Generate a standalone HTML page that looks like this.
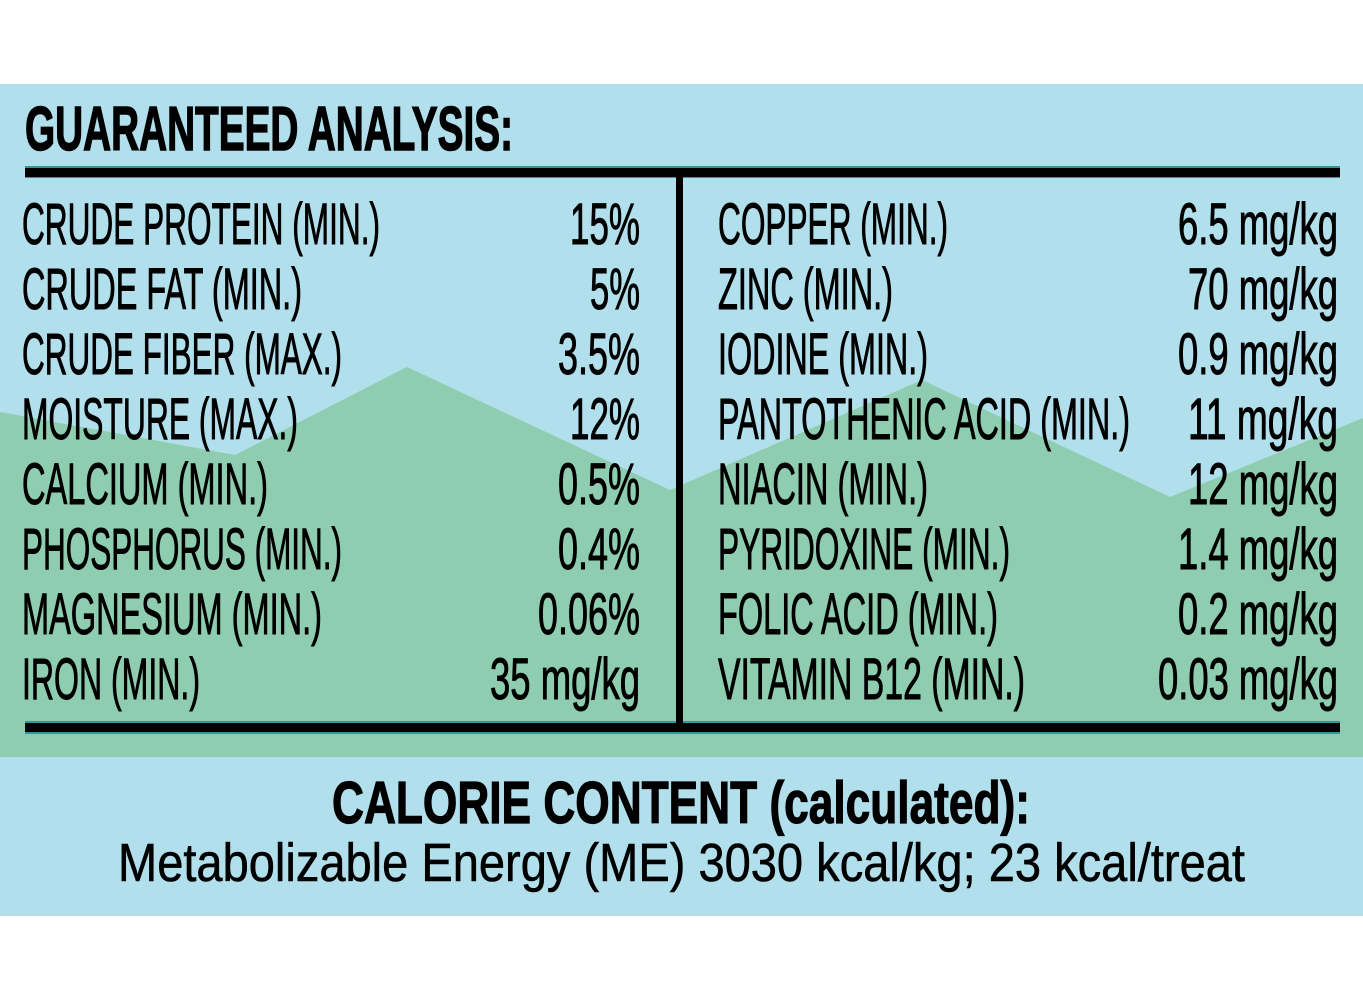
<!DOCTYPE html>
<html><head><meta charset="utf-8"><style>html,body{margin:0;padding:0;background:#fff}svg{display:block}</style></head>
<body>
<svg width="1363" height="1000" viewBox="0 0 1363 1000" xmlns="http://www.w3.org/2000/svg" font-family="Liberation Sans, sans-serif">
<rect x="0" y="0" width="1363" height="1000" fill="#fff"/>
<rect x="0" y="84" width="1363" height="832" fill="#b1dfec"/>
<polygon points="0,412 235,455 407,367 670,490 922,380 1170,497 1363,418 1363,757 0,757" fill="#8ecdb0"/>
<text x="25" y="150" font-size="62" font-weight="bold" stroke="#000" stroke-width="1.5" textLength="488" lengthAdjust="spacingAndGlyphs">GUARANTEED ANALYSIS:</text>
<rect x="25" y="166" width="1315" height="12" fill="#2a9a9a"/>
<rect x="25" y="168" width="1315" height="9" fill="#000"/>
<rect x="25" y="721" width="1315" height="13" fill="#2a9a9a"/>
<rect x="25" y="723" width="1315" height="9" fill="#000"/>
<rect x="676" y="174" width="7" height="554" fill="#000"/>
<g font-size="58" stroke="#000" stroke-width="1">
<text x="22" y="244" textLength="358" lengthAdjust="spacingAndGlyphs">CRUDE PROTEIN (MIN.)</text>
<text x="22" y="309" textLength="280" lengthAdjust="spacingAndGlyphs">CRUDE FAT (MIN.)</text>
<text x="22" y="374" textLength="320" lengthAdjust="spacingAndGlyphs">CRUDE FIBER (MAX.)</text>
<text x="22" y="439" textLength="276" lengthAdjust="spacingAndGlyphs">MOISTURE (MAX.)</text>
<text x="22" y="504" textLength="246" lengthAdjust="spacingAndGlyphs">CALCIUM (MIN.)</text>
<text x="22" y="569" textLength="320" lengthAdjust="spacingAndGlyphs">PHOSPHORUS (MIN.)</text>
<text x="22" y="634" textLength="300" lengthAdjust="spacingAndGlyphs">MAGNESIUM (MIN.)</text>
<text x="22" y="699" textLength="178" lengthAdjust="spacingAndGlyphs">IRON (MIN.)</text>
<text x="570" y="244" textLength="70" lengthAdjust="spacingAndGlyphs">15%</text>
<text x="590" y="309" textLength="50" lengthAdjust="spacingAndGlyphs">5%</text>
<text x="558" y="374" textLength="82" lengthAdjust="spacingAndGlyphs">3.5%</text>
<text x="570" y="439" textLength="70" lengthAdjust="spacingAndGlyphs">12%</text>
<text x="558" y="504" textLength="82" lengthAdjust="spacingAndGlyphs">0.5%</text>
<text x="558" y="569" textLength="82" lengthAdjust="spacingAndGlyphs">0.4%</text>
<text x="538" y="634" textLength="102" lengthAdjust="spacingAndGlyphs">0.06%</text>
<text x="490" y="699" textLength="150" lengthAdjust="spacingAndGlyphs">35 mg/kg</text>
<text x="718" y="244" textLength="230" lengthAdjust="spacingAndGlyphs">COPPER (MIN.)</text>
<text x="718" y="309" textLength="175" lengthAdjust="spacingAndGlyphs">ZINC (MIN.)</text>
<text x="718" y="374" textLength="210" lengthAdjust="spacingAndGlyphs">IODINE (MIN.)</text>
<text x="718" y="439" textLength="412" lengthAdjust="spacingAndGlyphs">PANTOTHENIC ACID (MIN.)</text>
<text x="718" y="504" textLength="210" lengthAdjust="spacingAndGlyphs">NIACIN (MIN.)</text>
<text x="718" y="569" textLength="292" lengthAdjust="spacingAndGlyphs">PYRIDOXINE (MIN.)</text>
<text x="718" y="634" textLength="280" lengthAdjust="spacingAndGlyphs">FOLIC ACID (MIN.)</text>
<text x="718" y="699" textLength="307" lengthAdjust="spacingAndGlyphs">VITAMIN B12 (MIN.)</text>
<text x="1178" y="244" textLength="160" lengthAdjust="spacingAndGlyphs">6.5 mg/kg</text>
<text x="1188" y="309" textLength="150" lengthAdjust="spacingAndGlyphs">70 mg/kg</text>
<text x="1178" y="374" textLength="160" lengthAdjust="spacingAndGlyphs">0.9 mg/kg</text>
<text x="1188" y="439" textLength="150" lengthAdjust="spacingAndGlyphs">11 mg/kg</text>
<text x="1188" y="504" textLength="150" lengthAdjust="spacingAndGlyphs">12 mg/kg</text>
<text x="1178" y="569" textLength="160" lengthAdjust="spacingAndGlyphs">1.4 mg/kg</text>
<text x="1178" y="634" textLength="160" lengthAdjust="spacingAndGlyphs">0.2 mg/kg</text>
<text x="1158" y="699" textLength="180" lengthAdjust="spacingAndGlyphs">0.03 mg/kg</text>
</g>
<text x="332" y="823" font-size="59" font-weight="bold" stroke="#000" stroke-width="1.2" textLength="698" lengthAdjust="spacingAndGlyphs">CALORIE CONTENT (calculated):</text>
<text x="118" y="881" font-size="54" stroke="#000" stroke-width="0.6" textLength="1127" lengthAdjust="spacingAndGlyphs">Metabolizable Energy (ME) 3030 kcal/kg; 23 kcal/treat</text>
</svg>
</body></html>
